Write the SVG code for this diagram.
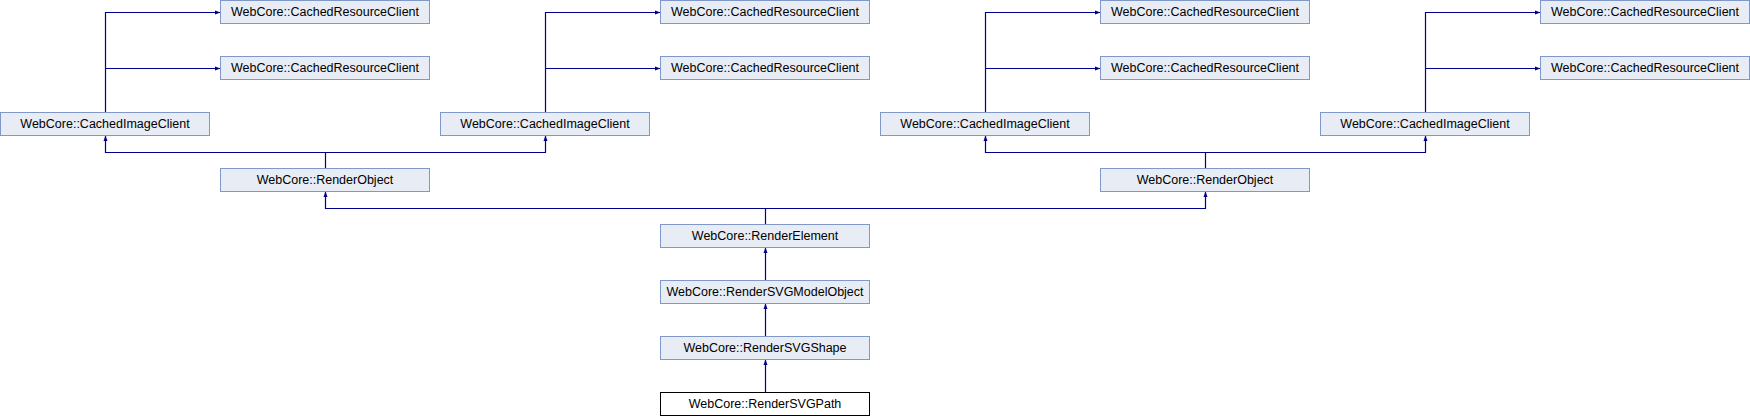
<svg xmlns="http://www.w3.org/2000/svg" width="1750" height="416" viewBox="0 0 1750 416">
<style>
.n rect{fill:#e8ecf5;stroke:#7f98c9;stroke-width:1}
.n text{font-family:"Liberation Sans",Arial,sans-serif;font-size:12.5px;fill:#000;text-anchor:middle}
.cur rect{fill:#fff;stroke:#000}
.e path{fill:none;stroke:#00008b;stroke-width:1.2}
</style>
<defs>
<marker id="a" markerUnits="userSpaceOnUse" markerWidth="6" markerHeight="5" refX="5.5" refY="2.5" orient="auto">
<path d="M0,0.5 L5.5,2.5 L0,4.5 z" fill="#00008b"/>
</marker>
</defs>
<rect width="1750" height="416" fill="#fff"/>
<g class="e">
<path d="M105.5,112.5 V12.5 H220.5" marker-end="url(#a)"/>
<path d="M105.5,68.5 H220.5" marker-end="url(#a)"/>
<path d="M545.5,112.5 V12.5 H660.5" marker-end="url(#a)"/>
<path d="M545.5,68.5 H660.5" marker-end="url(#a)"/>
<path d="M985.5,112.5 V12.5 H1100.5" marker-end="url(#a)"/>
<path d="M985.5,68.5 H1100.5" marker-end="url(#a)"/>
<path d="M1425.5,112.5 V12.5 H1540.5" marker-end="url(#a)"/>
<path d="M1425.5,68.5 H1540.5" marker-end="url(#a)"/>
<path d="M325.5,168.5 V152.5 H105.5 V135.5" marker-end="url(#a)"/>
<path d="M325.5,152.5 H545.5 V135.5" marker-end="url(#a)"/>
<path d="M1205.5,168.5 V152.5 H985.5 V135.5" marker-end="url(#a)"/>
<path d="M1205.5,152.5 H1425.5 V135.5" marker-end="url(#a)"/>
<path d="M765.5,224.5 V208.5 H325.5 V191.5" marker-end="url(#a)"/>
<path d="M765.5,208.5 H1205.5 V191.5" marker-end="url(#a)"/>
<path d="M765.5,280.5 V247.5" marker-end="url(#a)"/>
<path d="M765.5,336.5 V303.5" marker-end="url(#a)"/>
<path d="M765.5,392.5 V359.5" marker-end="url(#a)"/>
</g>
<g id="crc1" class="n"><rect x="220.5" y="0.5" width="209" height="23"/><text x="325" y="16">WebCore::CachedResourceClient</text></g>
<g id="crc2" class="n"><rect x="220.5" y="56.5" width="209" height="23"/><text x="325" y="72">WebCore::CachedResourceClient</text></g>
<g id="crc3" class="n"><rect x="660.5" y="0.5" width="209" height="23"/><text x="765" y="16">WebCore::CachedResourceClient</text></g>
<g id="crc4" class="n"><rect x="660.5" y="56.5" width="209" height="23"/><text x="765" y="72">WebCore::CachedResourceClient</text></g>
<g id="crc5" class="n"><rect x="1100.5" y="0.5" width="209" height="23"/><text x="1205" y="16">WebCore::CachedResourceClient</text></g>
<g id="crc6" class="n"><rect x="1100.5" y="56.5" width="209" height="23"/><text x="1205" y="72">WebCore::CachedResourceClient</text></g>
<g id="crc7" class="n"><rect x="1540.5" y="0.5" width="209" height="23"/><text x="1645" y="16">WebCore::CachedResourceClient</text></g>
<g id="crc8" class="n"><rect x="1540.5" y="56.5" width="209" height="23"/><text x="1645" y="72">WebCore::CachedResourceClient</text></g>
<g id="cic1" class="n"><rect x="0.5" y="112.5" width="209" height="23"/><text x="105" y="128">WebCore::CachedImageClient</text></g>
<g id="cic2" class="n"><rect x="440.5" y="112.5" width="209" height="23"/><text x="545" y="128">WebCore::CachedImageClient</text></g>
<g id="cic3" class="n"><rect x="880.5" y="112.5" width="209" height="23"/><text x="985" y="128">WebCore::CachedImageClient</text></g>
<g id="cic4" class="n"><rect x="1320.5" y="112.5" width="209" height="23"/><text x="1425" y="128">WebCore::CachedImageClient</text></g>
<g id="ro1" class="n"><rect x="220.5" y="168.5" width="209" height="23"/><text x="325" y="184">WebCore::RenderObject</text></g>
<g id="ro2" class="n"><rect x="1100.5" y="168.5" width="209" height="23"/><text x="1205" y="184">WebCore::RenderObject</text></g>
<g id="re" class="n"><rect x="660.5" y="224.5" width="209" height="23"/><text x="765" y="240">WebCore::RenderElement</text></g>
<g id="rsmo" class="n"><rect x="660.5" y="280.5" width="209" height="23"/><text x="765" y="296">WebCore::RenderSVGModelObject</text></g>
<g id="rss" class="n"><rect x="660.5" y="336.5" width="209" height="23"/><text x="765" y="352">WebCore::RenderSVGShape</text></g>
<g id="rsp" class="n cur"><rect x="660.5" y="392.5" width="209" height="23"/><text x="765" y="408">WebCore::RenderSVGPath</text></g>
</svg>
